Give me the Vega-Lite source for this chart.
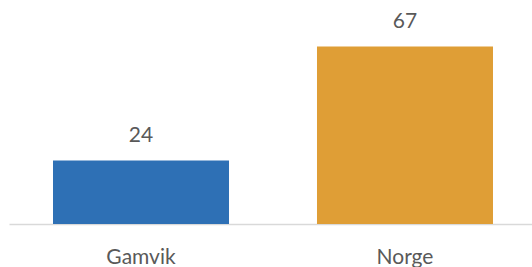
{
  "$schema": "https://vega.github.io/schema/vega-lite/v6.json",
  "width": 528,
  "height": 224,
  "autosize": "none",
  "padding": {"left": 9, "top": 0, "right": 0, "bottom": 43},
  "background": "white",
  "config": {"view": {"stroke": null}, "font": "Lato"},
  "data": {"values": [
    {"omrade": "Gamvik", "verdi": 24},
    {"omrade": "Norge", "verdi": 67}
  ]},
  "encoding": {
    "x": {"field": "omrade", "type": "nominal", "sort": null,
      "scale": {"paddingInner": 0.3333, "paddingOuter": 0.1667},
      "axis": {"title": null, "labelAngle": 0, "ticks": false, "domainColor": "#d9d9d9", "domainWidth": 1.5,
        "labelFont": "Lato", "labelFontSize": 21, "labelColor": "#595959", "labelBaseline": "alphabetic", "labelPadding": 39}},
    "y": {"field": "verdi", "type": "quantitative", "scale": {"domain": [0, 84.5], "nice": false}, "axis": null}
  },
  "layer": [
    {"mark": {"type": "bar"},
     "encoding": {"color": {"field": "omrade", "type": "nominal", "legend": null,
       "scale": {"domain": ["Gamvik", "Norge"], "range": ["#2e70b5", "#df9e36"]}}}},
    {"mark": {"type": "text", "baseline": "alphabetic", "dy": -18, "fontSize": 21, "font": "Lato", "color": "#595959"},
     "encoding": {"text": {"field": "verdi", "type": "quantitative"}}}
  ]
}
